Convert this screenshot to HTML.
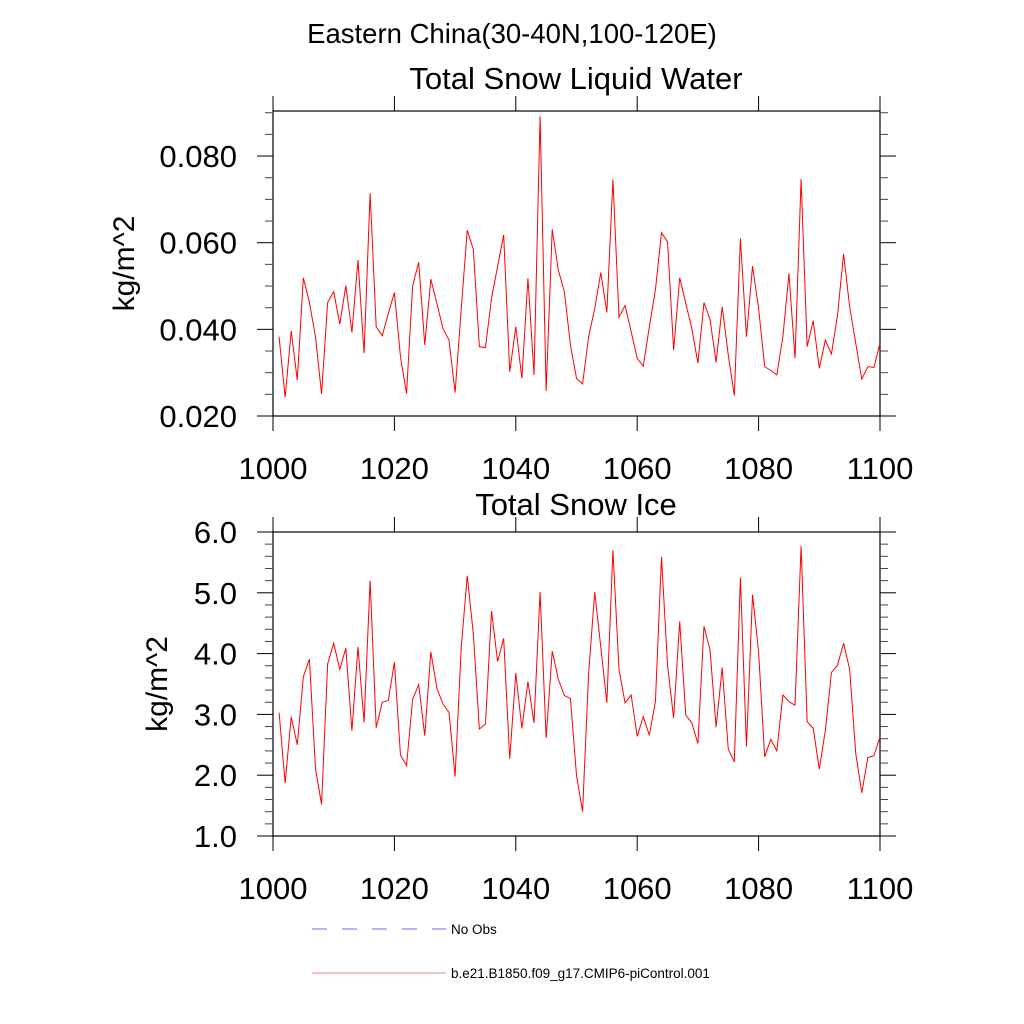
<!DOCTYPE html>
<html><head><meta charset="utf-8"><style>
html,body{margin:0;padding:0;background:#fff;}
svg{display:block;font-family:"Liberation Sans",sans-serif;}
</style></head><body>
<svg id="chart" width="1024" height="1024" viewBox="0 0 1024 1024" xmlns="http://www.w3.org/2000/svg">
<text x="512" y="43" font-size="27.5" text-anchor="middle">Eastern China(30-40N,100-120E)</text>
<g id="p1"></g>
<g id="p2"></g>
<g>
<line x1="312" y1="929" x2="446" y2="929" stroke="#6b6bff" stroke-width="1" stroke-dasharray="15,15"/>
<text x="451" y="934" font-size="13.5">No Obs</text>
<line x1="312" y1="973" x2="446" y2="973" stroke="#f08080" stroke-width="1"/>
<text x="451" y="978" font-size="13.5">b.e21.B1850.f09_g17.CMIP6-piControl.001</text>
</g>
</svg>
<script>
const years = Array.from({length:100},(_,i)=>1001+i);
const liquidWater = [0.0383,0.0243,0.0396,0.0283,0.0519,0.0462,0.0383,0.0251,0.0462,0.0487,
0.0412,0.0501,0.0393,0.0560,0.0345,0.0714,0.0406,0.0385,0.0437,0.0485,
0.0337,0.0252,0.0500,0.0555,0.0364,0.0516,0.0460,0.0402,0.0375,0.0254,
0.0445,0.0629,0.0585,0.0360,0.0358,0.0472,0.0545,0.0618,0.0302,0.0406,
0.0287,0.0518,0.0295,0.0892,0.0258,0.0631,0.0537,0.0487,0.0364,0.0287,
0.0274,0.0383,0.0448,0.0531,0.0439,0.0746,0.0428,0.0455,0.0395,0.0333,
0.0315,0.0406,0.0491,0.0623,0.0602,0.0352,0.0519,0.0460,0.0402,0.0322,
0.0462,0.0423,0.0324,0.0452,0.0341,0.0247,0.0610,0.0383,0.0546,0.0448,
0.0314,0.0305,0.0295,0.0383,0.0529,0.0333,0.0747,0.0360,0.0420,0.0310,
0.0375,0.0343,0.0433,0.0574,0.0452,0.0368,0.0285,0.0314,0.0312,0.0368];
const snowIce = [3.03,1.87,2.96,2.50,3.62,3.91,2.11,1.52,3.83,4.17,
3.74,4.09,2.73,4.11,2.87,5.20,2.78,3.20,3.23,3.86,
2.33,2.16,3.25,3.49,2.65,4.03,3.43,3.17,3.03,1.98,
4.09,5.28,4.33,2.76,2.84,4.70,3.87,4.25,2.27,3.68,
2.77,3.54,2.86,5.01,2.61,4.04,3.58,3.31,3.26,2.00,
1.40,3.68,5.01,4.11,3.19,5.70,3.74,3.19,3.32,2.64,
2.96,2.66,3.21,5.59,3.81,2.94,4.53,2.99,2.86,2.52,
4.45,4.06,2.79,3.77,2.43,2.22,5.25,2.47,4.97,4.03,
2.30,2.59,2.40,3.32,3.21,3.15,5.77,2.88,2.77,2.10,
2.74,3.69,3.81,4.17,3.74,2.36,1.71,2.29,2.32,2.63];
const xTicks = [1000,1020,1040,1060,1080,1100];
const yTicks1 = [0.020,0.040,0.060,0.080];
const yTickLabels1 = ["0.020","0.040","0.060","0.080"];
const yTicks2 = [1,2,3,4,5,6];
const yTickLabels2 = ["1.0","2.0","3.0","4.0","5.0","6.0"];

const NS="http://www.w3.org/2000/svg";
function mk(parent,tag,attrs){const e=document.createElementNS(NS,tag);for(const k in attrs)e.setAttribute(k,attrs[k]);parent.appendChild(e);return e;}

function panel(g,o){
  const L=273,R=880,T=o.top,B=o.bottom;
  const sx=v=>L+(v-1000)/100*(R-L);
  const sy=v=>B-(v-o.ymin)/(o.ymax-o.ymin)*(B-T);
  let t=mk(g,'text',{x:576,y:o.titleY,'font-size':31,'text-anchor':'middle'});t.textContent=o.title;
  
  
  let fr=mk(g,'rect',{x:L,y:T,width:R-L,height:B-T,fill:'none',stroke:'#000','stroke-width':1.2});
  
  
  for(let v=1000;v<=1100;v+=20){
    const x=sx(v), len=15;
    const a=mk(g,'line',{x1:x,y1:B,x2:x,y2:B+len,stroke:'#000','stroke-width':1});
    
    
    const b=mk(g,'line',{x1:x,y1:T,x2:x,y2:T-len,stroke:'#000','stroke-width':1});
    
    
  }
  xTicks.forEach(v=>{
    const tx=mk(g,'text',{x:sx(v),y:B+63,'font-size':31,'text-anchor':'middle'});tx.textContent=String(v);
    
    
  });
  for(let v=o.minorStart;v<=o.ymax+1e-9;v+=o.minor){
    const y=sy(v);
    const isMajor=o.ticks.some(m=>Math.abs(m-v)<1e-9);
    const len=isMajor?16:8;
    const a=mk(g,'line',{x1:L,y1:y,x2:L-len,y2:y,stroke:isMajor?'#000':'#444','stroke-width':1});
    
    
    const b=mk(g,'line',{x1:R,y1:y,x2:R+len,y2:y,stroke:isMajor?'#000':'#444','stroke-width':1});
    
    
  }
  o.ticks.forEach((v,i)=>{
    const ty=mk(g,'text',{x:o.labelX,y:sy(v)+11,'font-size':31,'text-anchor':'end'});ty.textContent=o.labels[i];
    
    
  });
  const yt=mk(g,'text',{x:0,y:0,'font-size':30,'text-anchor':'middle',transform:`translate(${o.yTitleX},${(T+B)/2}) rotate(-90)`});
  yt.textContent='kg/m^2';
  
  
  const pts=o.data.map((v,i)=>sx(years[i]).toFixed(2)+','+sy(v).toFixed(2)).join(' ');
  const pl=mk(g,'polyline',{points:pts,fill:'none',stroke:'#ff0000','stroke-width':1});
  
  
}
panel(document.getElementById('p1'),{top:111,bottom:416,ymin:0.020,ymax:0.0904,minor:0.005,minorStart:0.020,ticks:yTicks1,labels:yTickLabels1,data:liquidWater,title:'Total Snow Liquid Water',titleY:89,labelX:237,yTitleX:134});
panel(document.getElementById('p2'),{top:532,bottom:836,ymin:1,ymax:6,minor:0.2,minorStart:1,ticks:yTicks2,labels:yTickLabels2,data:snowIce,title:'Total Snow Ice',titleY:515,labelX:237,yTitleX:167});
</script>
</body></html>
